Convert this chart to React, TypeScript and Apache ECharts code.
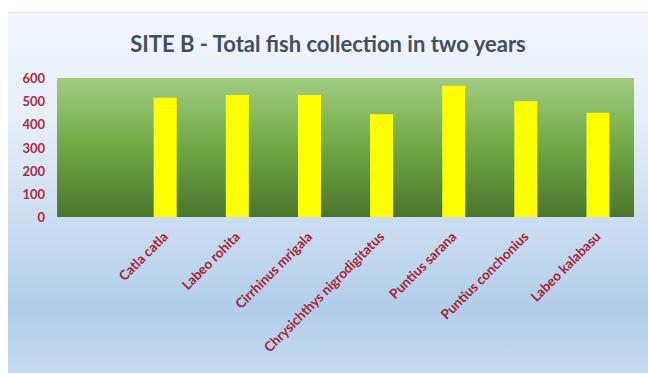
import React, { useEffect, useRef } from "react";
import * as echarts from "echarts";

const title = "SITE B - Total fish collection in two years";
const categories = [
  "",
  "Catla catla",
  "Labeo rohita",
  "Cirrhinus mrigala",
  "Chrysichthys nigrodigitatus",
  "Puntius sarana",
  "Puntius conchonius",
  "Labeo kalabasu",
];
const values = [null, 515, 527, 527, 444, 567, 500, 450];
const yTicks = { min: 0, max: 600, interval: 100 };

export default function App() {
  const ref = useRef<HTMLDivElement>(null);
  useEffect(() => {
    if (!ref.current) return;
    const chart = echarts.init(ref.current, null, { renderer: "svg" });
    chart.setOption({
      animation: false,
      backgroundColor: "transparent",
      title: {
        text: title,
        left: "center",
        top: 14,
        textStyle: {
          fontFamily: "Lato",
          fontWeight: "bold",
          fontSize: 22,
          color: "#415060",
        },
      },
      grid: {
        left: 49,
        right: 14,
        top: 65,
        bottom: 156,
        show: true,
        borderWidth: 0,
        backgroundColor: new echarts.graphic.LinearGradient(0, 0, 0, 1, [
          { offset: 0, color: "#A3CC83" },
          { offset: 0.5, color: "#6EA845" },
          { offset: 1, color: "#4A752D" },
        ]),
      },
      xAxis: {
        type: "category",
        data: categories,
        axisLine: { show: false },
        axisTick: { show: false },
        axisLabel: {
          rotate: 45,
          interval: 0,
          margin: 17,
          fontFamily: "Lato",
          fontWeight: "bold",
          fontSize: 13.5,
          color: "#A81E32",
        },
      },
      yAxis: {
        type: "value",
        min: yTicks.min,
        max: yTicks.max,
        interval: yTicks.interval,
        splitLine: { show: false },
        axisLine: { show: false },
        axisTick: { show: false },
        axisLabel: {
          margin: 12,
          fontFamily: "Lato",
          fontWeight: "bold",
          fontSize: 13,
          color: "#B0283A",
        },
      },
      series: [
        {
          type: "bar",
          data: values,
          barWidth: 23,
          itemStyle: { color: "#FFFF00" },
        },
      ],
    });
    return () => chart.dispose();
  }, []);
  return (
    <div
      style={{
        position: "absolute",
        left: 0,
        top: 0,
        width: 648,
        height: 373,
        background: "#ffffff",
      }}
    >
      <div
        ref={ref}
        style={{
          position: "absolute",
          left: 8,
          top: 12,
          width: 640,
          height: 361,
          background:
            "linear-gradient(to bottom, #F3F6FC 0%, #E6EEF8 30%, #C9DCF0 60%, #B2CEEA 82%, #C5D9F0 100%)",
          borderTop: "1px solid #E2E6EC",
          boxSizing: "border-box",
        }}
      />
    </div>
  );
}
